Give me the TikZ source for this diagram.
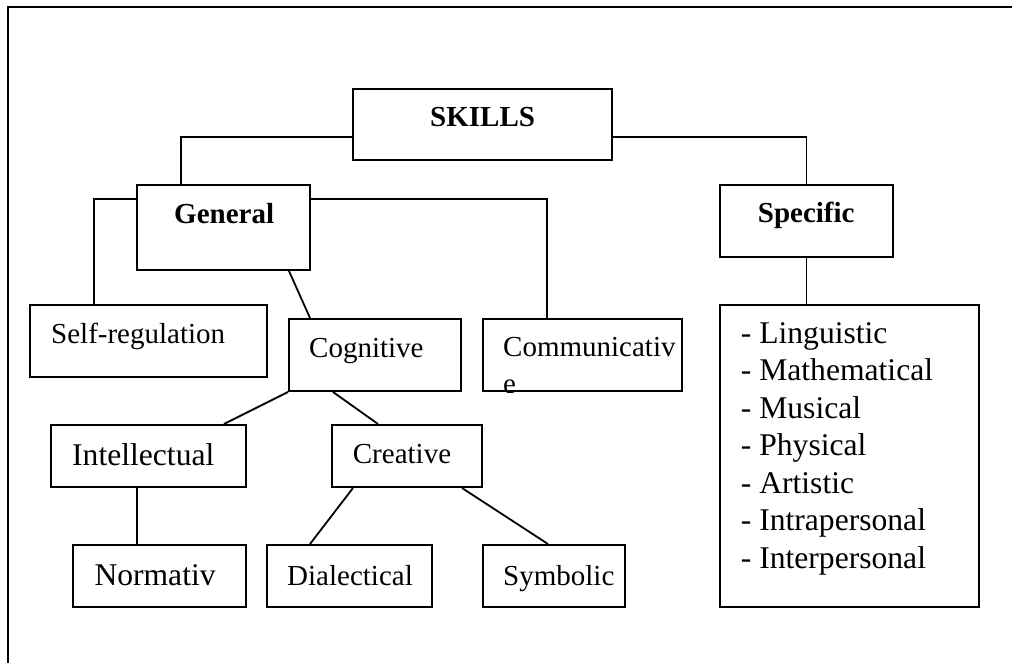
\documentclass[tikz,border=0pt]{standalone}
\usepackage{fontspec}
\setmainfont{Liberation Serif}
\usetikzlibrary{calc}
\begin{document}
\begin{tikzpicture}[x=1pt,y=-1pt,
  box/.style={draw,line width=2pt,inner sep=0pt,rectangle},
  link/.style={line width=1.8pt},
  txt/.style={inner sep=0pt,anchor=base west,font=\fontsize{29pt}{34pt}\selectfont},
  bigtxt/.style={inner sep=0pt,anchor=base west,font=\fontsize{31.6pt}{38pt}\selectfont},
  boldtxt/.style={inner sep=0pt,anchor=base west,font=\bfseries\fontsize{29pt}{34pt}\selectfont}]
\useasboundingbox (0,0) rectangle (1012,663);
% outer frame
\draw[link] (8,663) -- (8,7) -- (1012,7);
% boxes
\node[box,minimum width=259pt,minimum height=71pt] (skills) at (482.5,124.5) {};
\node[box,minimum width=173pt,minimum height=85pt] (general) at (223.5,227.5) {};
\node[box,minimum width=173pt,minimum height=72pt] (specific) at (806.5,221) {};
\node[box,minimum width=237pt,minimum height=72pt] (selfreg) at (148.5,341) {};
\node[box,minimum width=172pt,minimum height=72pt] (cognitive) at (375,355) {};
\node[box,minimum width=199pt,minimum height=72pt] (commun) at (582.5,355) {};
\node[box,minimum width=259pt,minimum height=302pt] (list) at (849.5,456) {};
\node[box,minimum width=195pt,minimum height=62pt] (intel) at (148.5,456) {};
\node[box,minimum width=150pt,minimum height=62pt] (creative) at (407,456) {};
\node[box,minimum width=173pt,minimum height=62pt] (normativ) at (159.5,576) {};
\node[box,minimum width=165pt,minimum height=62pt] (dialect) at (349.5,576) {};
\node[box,minimum width=142pt,minimum height=62pt] (symbolic) at (554,576) {};
% texts
\node[boldtxt] (tskills) at (430,127) {SKILLS};
\node[boldtxt] (tgeneral) at (174,224) {General};
\node[boldtxt] (tspecific) at (757.7,223) {Specific};
\node[txt] (tselfreg) at (51,343) {Self-regulation};
\node[txt] (tcognitive) at (309,357) {Cognitive};
\node[txt] (tcommun) at (503,356) {Communicativ};
\begin{scope}
  \clip (commun.south west) rectangle (commun.north east);
  \node[txt] (tcommune) at (503,393.5) {e};
\end{scope}
\node[bigtxt] (tintel) at (72,465) {Intellectual};
\node[txt] (tcreative) at (352.7,463) {Creative};
\node[bigtxt] (tnormativ) at (94.3,585) {Normativ};
\node[txt] (tdialect) at (287,585) {Dialectical};
\node[txt] (tsymbolic) at (503,585) {Symbolic};
\foreach \t [count=\i from 0] in {Linguistic,Mathematical,Musical,Physical,Artistic,Intrapersonal,Interpersonal}
  \node[bigtxt] (li\i) at (740.7,343+37.5*\i) {- \t};
% connectors
\draw[link] ([yshift=-12.5pt]skills.west) -| ([xshift=-42.5pt]general.north);
\draw[link] ([yshift=-12.5pt]skills.east) -| (specific.north);
\draw[link] ([yshift=28.5pt]general.west) -| ([xshift=-54.5pt]selfreg.north);
\draw[link] ([yshift=28.5pt]general.east) -| ([xshift=-35.5pt]commun.north);
\draw[link] ([xshift=65.5pt]general.south) -- ([xshift=-65pt]cognitive.north);
\draw[link] (specific.south) -- (specific.south |- list.north);
\draw[link] (cognitive.south west) -- ([xshift=75.5pt]intel.north);
\draw[link] ([xshift=-42pt]cognitive.south) -- ([xshift=-29pt]creative.north);
\draw[link] ([xshift=-11.5pt]intel.south) -- ([xshift=-22.5pt]normativ.north);
\draw[link] ([xshift=-54pt]creative.south) -- ([xshift=-39.5pt]dialect.north);
\draw[link] ([xshift=55pt]creative.south) -- ([xshift=-6pt]symbolic.north);
\end{tikzpicture}
\end{document}
